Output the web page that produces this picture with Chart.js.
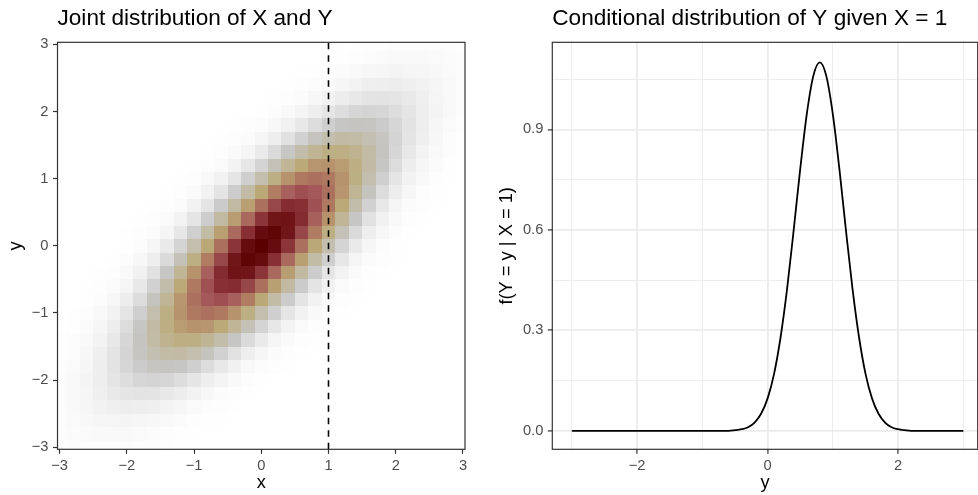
<!DOCTYPE html>
<html>
<head>
<meta charset="utf-8">
<script src="https://cdn.jsdelivr.net/npm/chart.js@4.4.1/dist/chart.umd.min.js"></script>
<style>
  html, body { margin: 0; padding: 0; background: #ffffff; }
  #wrap { position: relative; width: 978px; height: 495px; overflow: hidden; }
  canvas { position: absolute; top: 0; }
  #jointCanvas { left: 0; }
  #condCanvas { left: 489px; }
</style>
</head>
<body>
<div id="wrap">
  <canvas id="jointCanvas" width="489" height="495"></canvas>
  <canvas id="condCanvas" width="489" height="495"></canvas>
</div>
<script>
// ═══════════════════════════════════════
// DATA
// ═══════════════════════════════════════

const gridX = [-3.0, -2.8, -2.6, -2.4, -2.2, -2.0, -1.8, -1.6, -1.4, -1.2, -1.0, -0.8, -0.6, -0.4, -0.2,
  0.0, 0.2, 0.4, 0.6, 0.8, 1.0, 1.2, 1.4, 1.6, 1.8, 2.0, 2.2, 2.4, 2.6, 2.8, 3.0];
const gridY = [-3.0, -2.8, -2.6, -2.4, -2.2, -2.0, -1.8, -1.6, -1.4, -1.2, -1.0, -0.8, -0.6, -0.4, -0.2,
  0.0, 0.2, 0.4, 0.6, 0.8, 1.0, 1.2, 1.4, 1.6, 1.8, 2.0, 2.2, 2.4, 2.6, 2.8, 3.0];
// densityRows[r][c] is the cell at (gridX[c], gridY[r]); first row is y = -3
const densityRows = [
  [7,9,11,11,11,9,7,5,3,1,1,0,0,0,0,0,0,0,0,0,0,0,0,0,0,0,0,0,0,0,0],
  [9,13,17,19,20,18,15,11,7,4,2,1,0,0,0,0,0,0,0,0,0,0,0,0,0,0,0,0,0,0,0],
  [11,17,23,29,33,34,30,25,18,12,7,4,2,1,0,0,0,0,0,0,0,0,0,0,0,0,0,0,0,0,0],
  [11,19,30,41,50,56,55,49,39,27,17,10,5,2,1,0,0,0,0,0,0,0,0,0,0,0,0,0,0,0,0],
  [10,20,33,50,68,82,89,86,74,58,40,25,14,7,3,1,0,0,0,0,0,0,0,0,0,0,0,0,0,0,0],
  [9,18,34,55,82,108,128,135,128,108,82,55,34,18,9,4,1,1,0,0,0,0,0,0,0,0,0,0,0,0,0],
  [7,15,30,55,89,128,165,191,198,183,151,112,74,44,23,11,5,2,1,0,0,0,0,0,0,0,0,0,0,0,0],
  [4,11,25,49,86,135,191,241,272,275,249,202,146,95,55,29,13,6,2,1,0,0,0,0,0,0,0,0,0,0,0],
  [3,8,18,39,74,128,197,272,336,372,368,325,258,183,116,66,33,15,6,2,1,0,0,0,0,0,0,0,0,0,0],
  [1,4,12,27,57,109,183,276,372,450,486,470,407,315,218,135,75,37,17,7,2,1,0,0,0,0,0,0,0,0,0],
  [1,2,7,18,40,82,151,249,368,486,574,607,574,486,368,249,151,82,40,18,7,2,1,0,0,0,0,0,0,0,0],
  [0,1,4,10,25,56,112,202,325,470,606,701,725,670,555,411,272,162,86,41,17,7,2,1,0,0,0,0,0,0,0],
  [0,1,2,5,13,33,74,146,258,407,574,724,818,827,749,606,439,285,165,86,40,17,6,2,1,0,0,0,0,0,0],
  [0,0,1,2,6,18,44,95,183,315,485,670,828,915,905,800,634,450,285,162,82,37,15,6,2,1,0,0,0,0,0],
  [0,0,0,1,3,9,24,55,116,219,368,555,749,905,978,946,818,634,439,272,151,75,33,14,5,2,0,0,0,0,0],
  [0,0,0,0,1,4,11,29,66,135,249,411,607,801,946,1000,946,801,607,411,249,135,66,29,11,4,1,0,0,0,0],
  [0,0,0,0,0,2,5,14,33,75,151,272,439,634,818,946,978,905,749,555,368,219,116,55,24,9,3,1,0,0,0],
  [0,0,0,0,0,1,2,6,15,37,82,162,285,450,634,800,905,915,828,670,485,315,183,95,44,18,6,2,1,0,0],
  [0,0,0,0,0,0,1,2,6,17,40,86,165,285,439,606,749,827,818,724,574,407,258,146,74,33,13,5,2,1,0],
  [0,0,0,0,0,0,0,1,2,7,17,41,86,162,272,411,555,670,725,701,606,470,325,202,112,56,25,10,4,1,0],
  [0,0,0,0,0,0,0,0,1,2,7,18,40,82,151,249,368,486,574,607,574,486,368,249,151,82,40,18,7,2,1],
  [0,0,0,0,0,0,0,0,0,1,2,7,17,37,75,135,218,315,407,470,486,450,372,276,183,109,57,27,12,4,1],
  [0,0,0,0,0,0,0,0,0,0,1,2,6,15,33,66,116,183,258,325,368,372,336,272,197,128,74,39,18,8,3],
  [0,0,0,0,0,0,0,0,0,0,0,1,2,6,13,29,55,95,146,202,249,275,272,241,191,135,86,49,25,11,4],
  [0,0,0,0,0,0,0,0,0,0,0,0,1,2,5,11,23,44,74,112,151,183,198,191,165,128,89,55,30,15,7],
  [0,0,0,0,0,0,0,0,0,0,0,0,0,1,1,4,9,18,34,55,82,108,128,135,128,108,82,55,34,18,9],
  [0,0,0,0,0,0,0,0,0,0,0,0,0,0,0,1,3,7,14,25,40,58,74,86,89,82,68,50,33,20,10],
  [0,0,0,0,0,0,0,0,0,0,0,0,0,0,0,0,1,2,5,10,17,27,39,49,55,56,50,41,30,19,11],
  [0,0,0,0,0,0,0,0,0,0,0,0,0,0,0,0,0,1,2,4,7,12,18,25,30,34,33,29,23,17,11],
  [0,0,0,0,0,0,0,0,0,0,0,0,0,0,0,0,0,0,0,1,2,4,7,11,15,18,20,19,17,13,9],
  [0,0,0,0,0,0,0,0,0,0,0,0,0,0,0,0,0,0,0,0,1,1,3,5,7,9,11,11,11,9,7]
];
const conditionX = 1;
const jointTicks = [-3, -2, -1, 0, 1, 2, 3];

// Right panel: conditional density f(Y = y | X = 1)
const condY = [-3.0, -2.9, -2.8, -2.7, -2.6, -2.5, -2.4, -2.3, -2.2, -2.1, -2.0, -1.9, -1.8, -1.7, -1.6,
  -1.5, -1.4, -1.3, -1.2, -1.1, -1.0, -0.9, -0.8, -0.7, -0.6, -0.5, -0.4, -0.3, -0.2, -0.1,
  0.0, 0.1, 0.2, 0.3, 0.4, 0.5, 0.6, 0.7, 0.8, 0.9, 1.0, 1.1, 1.2, 1.3, 1.4,
  1.5, 1.6, 1.7, 1.8, 1.9, 2.0, 2.1, 2.2, 2.3, 2.4, 2.5, 2.6, 2.7, 2.8, 2.9, 3.0];
const condDensity = [0, 0, 0, 0, 0, 0, 0, 0, 0, 0, 0, 0, 0, 0, 0,
  0, 0, 0, 0, 0, 0, 0, 0, 0, 0, 0.002, 0.005, 0.011, 0.025, 0.051,
  0.097, 0.171, 0.281, 0.426, 0.600, 0.782, 0.945, 1.059, 1.100, 1.059, 0.945, 0.782, 0.600, 0.426, 0.281,
  0.171, 0.097, 0.051, 0.025, 0.011, 0.005, 0.002, 0, 0, 0, 0, 0, 0, 0, 0, 0];
const condXMajor = [-2, 0, 2];
const condXMinor = [-3, -1, 1, 3];
const condYMajor = [0, 0.3, 0.6, 0.9];
const condYMinor = [0.15, 0.45, 0.75, 1.05];

// ═══════════════════════════════════════
// STYLE
// ═══════════════════════════════════════
const FONT = "'Liberation Sans', Arial, Helvetica, sans-serif";
Chart.defaults.font.family = FONT;
Chart.defaults.color = "#4d4d4d";

const fillStops = [0, 180, 400, 560, 700, 860, 1000];
const fillColours = ["#ffffff", "#c6c6c6", "#bcab79", "#b07c62", "#a5585a", "#7c2024", "#5a0000"];

function hexRgb(h) { return [1, 3, 5].map(i => parseInt(h.slice(i, i + 2), 16)); }
const fillRgb = fillColours.map(hexRgb);

function fillFor(v) {
  for (let i = 1; i < fillStops.length; i++) {
    if (v <= fillStops[i]) {
      const t = (v - fillStops[i - 1]) / (fillStops[i] - fillStops[i - 1]);
      const a = fillRgb[i - 1], b = fillRgb[i];
      return `rgb(${a.map((c, k) => Math.round(c + (b[k] - c) * t)).join(",")})`;
    }
  }
  return fillColours[fillColours.length - 1];
}

function minusLabel(v) { return v < 0 ? "\u2212" + Math.abs(v) : String(v); }

// draws the raster cells under the datasets, positioned by the chart's scales
const heatmapPlugin = {
  id: "heatmap",
  beforeDatasetsDraw(chart) {
    const ds = chart.data.datasets.find(d => d.cells);
    if (!ds) return;
    const { ctx, chartArea: a, scales: { x, y } } = chart;
    const hx = (gridX[1] - gridX[0]) / 2, hy = (gridY[1] - gridY[0]) / 2;
    ctx.save();
    ctx.beginPath();
    ctx.rect(a.left, a.top, a.right - a.left, a.bottom - a.top);
    ctx.clip();
    ds.cells.forEach(c => {
      const x0 = Math.round(x.getPixelForValue(c.x - hx)), x1 = Math.round(x.getPixelForValue(c.x + hx));
      const y0 = Math.round(y.getPixelForValue(c.y + hy)), y1 = Math.round(y.getPixelForValue(c.y - hy));
      ctx.fillStyle = fillFor(c.v);
      ctx.fillRect(x0, y0, x1 - x0, y1 - y0);
    });
    ctx.restore();
  }
};

// panel border on top, like theme_bw
const framePlugin = {
  id: "frame",
  afterDraw(chart) {
    const { ctx, chartArea: a } = chart;
    ctx.save();
    ctx.strokeStyle = "#333333";
    ctx.lineWidth = 1.2;
    ctx.strokeRect(a.left, a.top, a.right - a.left, a.bottom - a.top);
    ctx.restore();
  }
};

const tickFont = { size: 14.7 };
const axisTitleFont = { size: 18.3 };
const plotTitleFont = { size: 22.6, weight: "normal" };

// ═══════════════════════════════════════
// LEFT: JOINT DISTRIBUTION
// ═══════════════════════════════════════
const jointCells = [];
densityRows.forEach((row, r) => row.forEach((v, c) => jointCells.push({ x: gridX[c], y: gridY[r], v })));
const jointLimits = [-3.03, 3.03];

const axisTicksOnly = { display: true, drawOnChartArea: false, drawTicks: true, tickLength: 4.5, tickColor: "#333333", tickWidth: 1.2 };

new Chart(document.getElementById("jointCanvas"), {
  type: "scatter",
  data: {
    datasets: [
      { label: "density", data: [], cells: jointCells, pointRadius: 0 },
      {
        label: "X = 1",
        data: [{ x: conditionX, y: jointLimits[0] }, { x: conditionX, y: jointLimits[1] }],
        showLine: true, borderColor: "#000000", borderWidth: 1.6, borderDash: [6.5, 6], pointRadius: 0,
      },
    ],
  },
  options: {
    responsive: false, animation: false, devicePixelRatio: 1,
    layout: { padding: { left: 0, right: 24, top: 0, bottom: 0 } },
    plugins: {
      legend: { display: false }, tooltip: { enabled: false },
      title: {
        display: true, text: "Joint distribution of X and Y", align: "start", fullSize: false,
        color: "#000000", font: plotTitleFont, padding: { top: 5.5, bottom: 9.7 },
      },
    },
    scales: {
      x: {
        type: "linear", min: jointLimits[0], max: jointLimits[1],
        afterBuildTicks: s => { s.ticks = jointTicks.map(v => ({ value: v })); },
        afterFit: s => { s.height = 45.7; },
        grid: axisTicksOnly, border: { display: false },
        ticks: { callback: minusLabel, font: tickFont, padding: 3.5, maxRotation: 0, autoSkip: false },
        title: { display: true, text: "x", color: "#000000", font: axisTitleFont, padding: { top: 0, bottom: 1 } },
      },
      y: {
        type: "linear", min: jointLimits[0], max: jointLimits[1],
        afterBuildTicks: s => { s.ticks = jointTicks.map(v => ({ value: v })); },
        afterFit: s => { s.width = 57.5; },
        grid: axisTicksOnly, border: { display: false },
        ticks: { callback: minusLabel, font: tickFont, padding: 4.5, autoSkip: false },
        title: { display: true, text: "y", color: "#000000", font: axisTitleFont, padding: { top: 5, bottom: 0 } },
      },
    },
  },
  plugins: [heatmapPlugin, framePlugin],
});

// ═══════════════════════════════════════
// RIGHT: CONDITIONAL DISTRIBUTION
// ═══════════════════════════════════════
const condPoints = condY.map((y, i) => ({ x: y, y: condDensity[i] }));
const isMajorX = v => condXMajor.includes(v);
const isMajorY = v => condYMajor.includes(v);

new Chart(document.getElementById("condCanvas"), {
  type: "scatter",
  data: {
    datasets: [{
      label: "f(Y = y | X = 1)", data: condPoints, showLine: true,
      borderColor: "#000000", borderWidth: 1.8, pointRadius: 0, cubicInterpolationMode: "monotone",
    }],
  },
  options: {
    responsive: false, animation: false, devicePixelRatio: 1,
    layout: { padding: { left: 0, right: 0.3, top: 0, bottom: 0 } },
    plugins: {
      legend: { display: false }, tooltip: { enabled: false },
      title: {
        display: true, text: "Conditional distribution of Y given X = 1", align: "start", fullSize: false,
        color: "#000000", font: plotTitleFont, padding: { top: 5.5, bottom: 9.7 },
      },
    },
    scales: {
      x: {
        type: "linear", min: -3.3, max: 3.22,
        afterBuildTicks: s => { s.ticks = [...condXMajor, ...condXMinor].sort((a, b) => a - b).map(v => ({ value: v })); },
        afterFit: s => { s.height = 45.7; },
        grid: {
          color: "#ebebeb", lineWidth: c => isMajorX(c.tick.value) ? 1.8 : 0.9,
          drawTicks: true, tickLength: 4.5, tickWidth: 1.2,
          tickColor: c => isMajorX(c.tick.value) ? "#333333" : "rgba(0,0,0,0)",
        },
        border: { display: false },
        ticks: { callback: v => isMajorX(v) ? minusLabel(v) : "", font: tickFont, padding: 3.5, maxRotation: 0, autoSkip: false },
        title: { display: true, text: "y", color: "#000000", font: axisTitleFont, padding: { top: 0, bottom: 1 } },
      },
      y: {
        type: "linear", min: -0.055, max: 1.16,
        afterBuildTicks: s => { s.ticks = [...condYMajor, ...condYMinor].sort((a, b) => a - b).map(v => ({ value: v })); },
        afterFit: s => { s.width = 63.3; },
        grid: {
          color: "#ebebeb", lineWidth: c => isMajorY(c.tick.value) ? 1.8 : 0.9,
          drawTicks: true, tickLength: 4.5, tickWidth: 1.2,
          tickColor: c => isMajorY(c.tick.value) ? "#333333" : "rgba(0,0,0,0)",
        },
        border: { display: false },
        ticks: { callback: v => isMajorY(v) ? v.toFixed(1) : "", font: tickFont, padding: 4.5, autoSkip: false },
        title: { display: true, text: "f(Y = y | X = 1)", color: "#000000", font: axisTitleFont, padding: { top: 6.5, bottom: 0 } },
      },
    },
  },
  plugins: [framePlugin],
});
</script>
</body>
</html>
